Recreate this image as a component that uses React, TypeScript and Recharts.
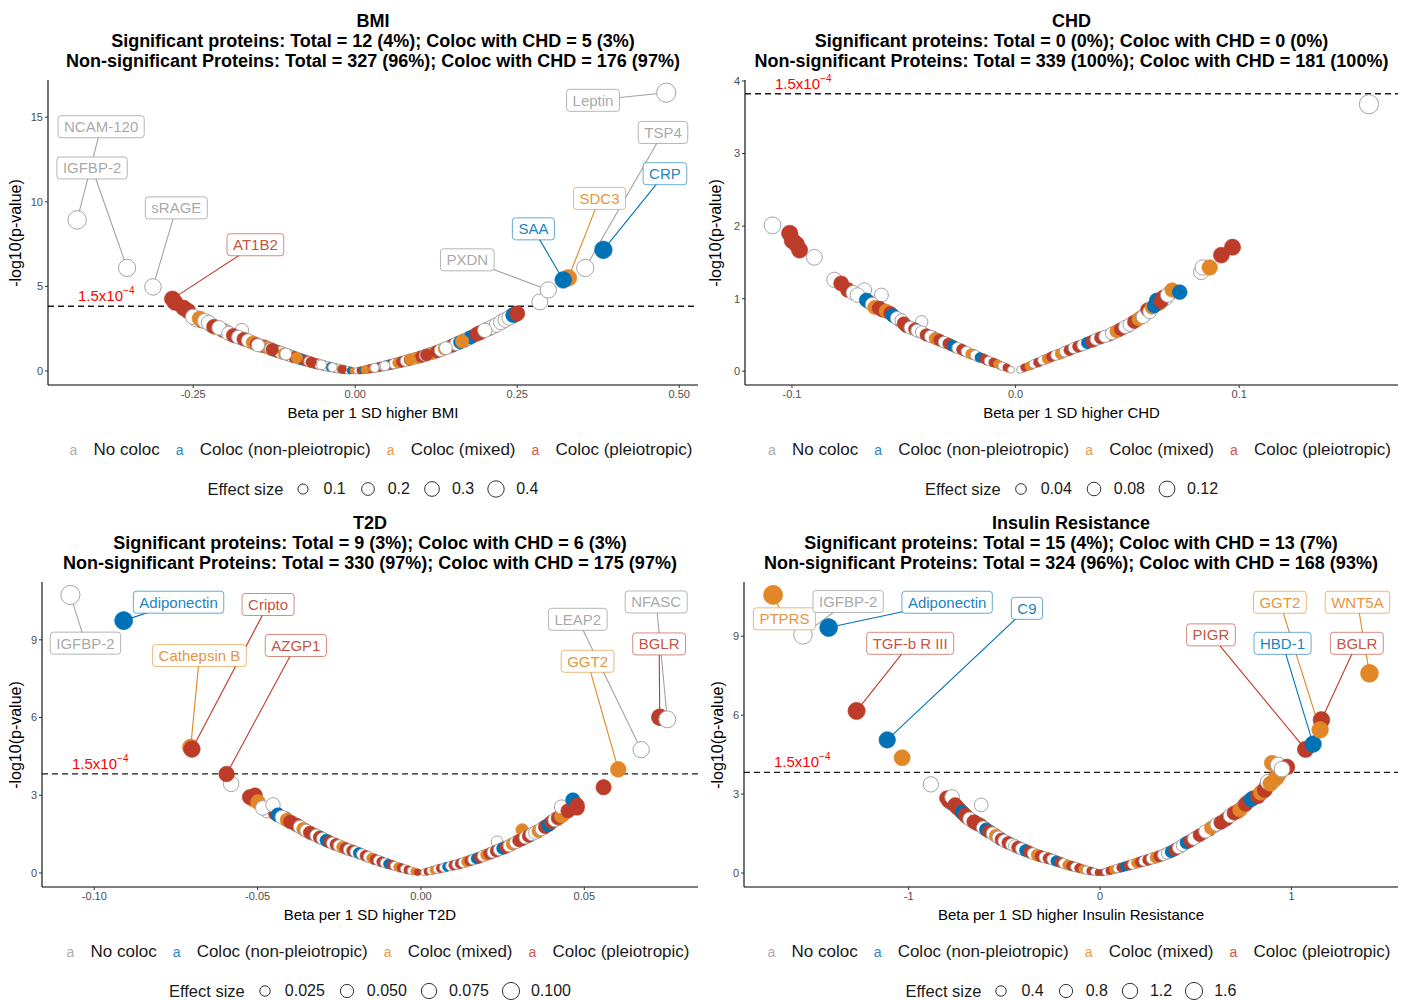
import React from 'react';
import { ScatterChart, Scatter, XAxis, YAxis, ReferenceLine, ReferenceDot } from 'recharts';

const FONT = '"Liberation Sans", Arial, Helvetica, sans-serif';

// ---------- data: [beta, -log10(p), group] ; group 0 no coloc, 1 non-pleio, 2 mixed, 3 pleio ----------
const GROUP_NAMES = ['No coloc', 'Coloc (non-pleiotropic)', 'Coloc (mixed)', 'Coloc (pleiotropic)'];
const THRESHOLD_P = 1.5e-4;

const bmiBand: number[][] = [
  [-0.245, 3.05, 0], [-0.236, 2.98, 3], [-0.222, 2.7, 0], [-0.214, 2.58, 2], [-0.204, 2.4, 3], [-0.198, 2.3, 0],
  [-0.184, 2.05, 0], [-0.176, 1.95, 2], [-0.168, 1.83, 0], [-0.161, 1.72, 3], [-0.155, 1.62, 0], [-0.143, 1.47, 2],
  [-0.133, 1.35, 0], [-0.118, 1.13, 0], [-0.112, 1.05, 3], [-0.101, 0.91, 0], [-0.096, 0.85, 1], [-0.085, 0.71, 0],
  [-0.074, 0.58, 2], [-0.063, 0.46, 0], [-0.057, 0.4, 3], [-0.046, 0.3, 2], [-0.041, 0.26, 0], [-0.030, 0.17, 1],
  [-0.025, 0.13, 0], [-0.014, 0.06, 3], [-0.009, 0.04, 0],
  [0.006, 0.02, 2], [0.020, 0.11, 0], [0.026, 0.15, 3], [0.036, 0.22, 0], [0.041, 0.27, 2], [0.052, 0.36, 0],
  [0.058, 0.41, 1], [0.063, 0.46, 0], [0.069, 0.51, 3], [0.075, 0.57, 0], [0.081, 0.63, 2], [0.087, 0.69, 0],
  [0.093, 0.75, 3], [0.099, 0.82, 0], [0.105, 0.88, 1], [0.117, 1.03, 3], [0.123, 1.1, 0], [0.129, 1.18, 3],
  [0.135, 1.27, 0], [0.147, 1.45, 2], [0.153, 1.55, 0], [0.159, 1.65, 3], [0.171, 1.85, 0], [0.184, 2.1, 2],
  [0.191, 2.24, 3], [0.207, 2.5, 2], [0.215, 2.66, 0], [0.228, 2.95, 0], [0.241, 3.22, 0], [0.247, 3.35, 1],
];

const bmiPoints: number[][] = [
  [-0.429, 8.93, 0], [-0.352, 6.09, 0], [-0.312, 4.97, 0],
  [-0.282, 4.26, 3], [-0.278, 4.05, 3], [-0.265, 3.73, 3], [-0.258, 3.55, 3], [-0.250, 3.2, 0], [-0.240, 3.1, 2],
  [-0.232, 2.95, 0], [-0.226, 2.85, 0], [-0.218, 2.62, 3], [-0.210, 2.55, 0], [-0.175, 2.4, 0], [-0.195, 2.22, 0],
  [-0.188, 2.1, 3], [-0.180, 2.0, 0], [-0.172, 1.88, 3], [-0.165, 1.8, 0], [-0.158, 1.68, 2], [-0.152, 1.58, 3],
  [-0.146, 1.5, 0], [-0.140, 1.45, 3], [-0.136, 1.4, 2], [-0.130, 1.3, 0], [-0.125, 1.22, 1], [-0.120, 1.15, 3],
  [-0.115, 1.1, 0], [-0.110, 1.02, 2], [-0.104, 0.95, 3], [-0.099, 0.88, 0], [-0.094, 0.82, 3], [-0.088, 0.74, 0],
  [-0.082, 0.68, 1], [-0.077, 0.62, 3], [-0.071, 0.55, 0], [-0.066, 0.49, 2], [-0.060, 0.43, 3], [-0.055, 0.38, 0],
  [-0.049, 0.33, 3], [-0.044, 0.28, 0], [-0.038, 0.23, 1], [-0.033, 0.19, 3], [-0.028, 0.15, 0], [-0.022, 0.11, 2],
  [-0.017, 0.08, 3], [-0.012, 0.05, 0], [-0.007, 0.03, 1], [-0.003, 0.01, 2],
  [-0.150, 1.52, 0], [-0.128, 1.27, 3], [-0.107, 1.0, 0], [-0.090, 0.78, 2], [-0.068, 0.52, 3], [-0.052, 0.36, 0],
  [-0.035, 0.21, 0], [-0.020, 0.1, 3],
  [0.003, 0.01, 0], [0.008, 0.03, 3], [0.013, 0.06, 1], [0.018, 0.09, 0], [0.023, 0.13, 3], [0.028, 0.16, 2],
  [0.033, 0.2, 0], [0.038, 0.24, 3], [0.044, 0.29, 0], [0.049, 0.33, 1], [0.055, 0.38, 3], [0.060, 0.43, 0],
  [0.066, 0.48, 2], [0.072, 0.54, 3], [0.078, 0.6, 0], [0.084, 0.66, 3], [0.090, 0.72, 0], [0.096, 0.78, 2],
  [0.102, 0.85, 3], [0.108, 0.92, 0], [0.114, 1.0, 0], [0.120, 1.06, 2], [0.126, 1.14, 3], [0.132, 1.22, 0],
  [0.138, 1.32, 2], [0.144, 1.4, 0], [0.150, 1.5, 3], [0.156, 1.6, 0], [0.162, 1.7, 1], [0.168, 1.8, 3],
  [0.174, 1.9, 0], [0.178, 1.98, 1], [0.188, 2.18, 3], [0.194, 2.28, 3], [0.203, 2.45, 2], [0.210, 2.58, 0],
  [0.218, 2.72, 0], [0.225, 2.88, 0], [0.232, 3.02, 0], [0.238, 3.15, 0], [0.244, 3.3, 1], [0.250, 3.4, 3],
  [0.046, 0.3, 0], [0.085, 0.68, 2], [0.110, 0.95, 3], [0.140, 1.35, 0], [0.165, 1.75, 2], [0.200, 2.4, 0],
  [0.015, 0.07, 2], [0.030, 0.18, 0],
  [0.285, 4.08, 0], [0.298, 4.79, 0], [0.329, 5.5, 2], [0.321, 5.38, 1], [0.355, 6.09, 0], [0.383, 7.16, 1],
  [0.480, 16.45, 0],
];

const chdBand: number[][] = [
  [-0.0655, 0.95, 2], [-0.062, 0.9, 3], [-0.0575, 0.82, 0], [-0.052, 0.71, 3], [-0.0495, 0.64, 1], [-0.046, 0.59, 2],
  [-0.043, 0.55, 3], [-0.041, 0.52, 0], [-0.039, 0.49, 3], [-0.037, 0.47, 1], [-0.035, 0.44, 0], [-0.033, 0.41, 2],
  [-0.031, 0.39, 0], [-0.029, 0.36, 3], [-0.027, 0.33, 0], [-0.025, 0.31, 2], [-0.023, 0.28, 3], [-0.021, 0.25, 0],
  [-0.019, 0.23, 3], [-0.017, 0.2, 0], [-0.015, 0.18, 2], [-0.013, 0.15, 3], [-0.011, 0.13, 0], [-0.009, 0.11, 1],
  [-0.007, 0.08, 3], [-0.005, 0.06, 0], [-0.003, 0.03, 2],
  [0.003, 0.03, 2], [0.005, 0.06, 0], [0.007, 0.08, 3], [0.009, 0.11, 1], [0.011, 0.13, 0], [0.013, 0.16, 3],
  [0.015, 0.18, 0], [0.017, 0.21, 2], [0.019, 0.23, 3], [0.021, 0.25, 0], [0.023, 0.28, 2], [0.025, 0.3, 0],
  [0.027, 0.33, 3], [0.029, 0.35, 0], [0.031, 0.37, 2], [0.033, 0.4, 0], [0.035, 0.42, 3], [0.037, 0.45, 0],
  [0.039, 0.47, 2], [0.042, 0.5, 3], [0.044, 0.53, 0], [0.046, 0.56, 3], [0.048, 0.59, 2], [0.050, 0.62, 0],
  [0.052, 0.66, 3], [0.054, 0.7, 0], [0.056, 0.74, 3], [0.058, 0.78, 0], [0.064, 0.93, 2], [0.067, 1.0, 0],
  [0.069, 1.08, 3],
];

const chdPoints: number[][] = [
  [-0.1087, 2.01, 0], [-0.101, 1.9, 3], [-0.0998, 1.8, 3], [-0.098, 1.75, 3], [-0.0966, 1.67, 3], [-0.090, 1.57, 0],
  [-0.081, 1.26, 0], [-0.078, 1.21, 3], [-0.075, 1.12, 3], [-0.0676, 1.12, 0], [-0.0725, 1.08, 0], [-0.0707, 1.05, 0],
  [-0.060, 1.05, 0], [-0.0667, 0.98, 1], [-0.064, 0.92, 0], [-0.063, 0.88, 2], [-0.061, 0.87, 3], [-0.0595, 0.84, 3],
  [-0.058, 0.83, 2], [-0.056, 0.8, 3], [-0.055, 0.77, 1], [-0.0545, 0.76, 1], [-0.053, 0.73, 0], [-0.051, 0.7, 0],
  [-0.042, 0.68, 0], [-0.050, 0.66, 3], [-0.0488, 0.62, 3], [-0.047, 0.6, 0], [-0.045, 0.58, 3], [-0.044, 0.56, 0],
  [-0.042, 0.54, 0], [-0.040, 0.5, 3], [-0.038, 0.48, 0], [-0.036, 0.45, 2], [-0.034, 0.43, 3], [-0.032, 0.4, 0],
  [-0.030, 0.38, 3], [-0.028, 0.35, 1], [-0.026, 0.32, 0], [-0.024, 0.3, 3], [-0.022, 0.27, 0], [-0.020, 0.24, 2],
  [-0.018, 0.22, 0], [-0.016, 0.19, 1], [-0.014, 0.17, 3], [-0.012, 0.14, 0], [-0.010, 0.12, 3], [-0.008, 0.1, 2],
  [-0.006, 0.07, 0], [-0.004, 0.05, 3], [-0.002, 0.02, 0],
  [0.002, 0.02, 0], [0.004, 0.05, 3], [0.006, 0.07, 2], [0.008, 0.1, 0], [0.010, 0.12, 3], [0.012, 0.15, 0],
  [0.014, 0.17, 2], [0.016, 0.2, 3], [0.018, 0.22, 0], [0.020, 0.24, 2], [0.022, 0.27, 0], [0.024, 0.29, 3],
  [0.026, 0.32, 0], [0.028, 0.34, 3], [0.030, 0.36, 0], [0.032, 0.39, 1], [0.034, 0.41, 3], [0.036, 0.44, 0],
  [0.038, 0.46, 3], [0.040, 0.48, 0], [0.043, 0.52, 0], [0.045, 0.55, 2], [0.047, 0.58, 3], [0.049, 0.61, 0],
  [0.051, 0.64, 0], [0.053, 0.68, 3], [0.055, 0.72, 2], [0.057, 0.75, 0], [0.059, 0.85, 3], [0.060, 0.82, 0],
  [0.061, 0.88, 2], [0.062, 0.9, 1], [0.063, 0.98, 1], [0.065, 0.96, 3], [0.066, 1.02, 3], [0.068, 1.05, 0],
  [0.070, 1.12, 2], [0.0734, 1.09, 1], [0.083, 1.37, 0], [0.0837, 1.43, 0], [0.0868, 1.43, 2], [0.092, 1.6, 3],
  [0.097, 1.71, 3], [0.158, 3.68, 0],
];

const t2dBand: number[][] = [
  [-0.0515, 2.85, 2], [-0.047, 2.4, 0], [-0.0445, 2.3, 3], [-0.0415, 2.1, 1], [-0.039, 1.92, 0], [-0.0375, 1.82, 2],
  [-0.0355, 1.66, 3], [-0.0335, 1.52, 0], [-0.0325, 1.48, 2], [-0.0305, 1.35, 0], [-0.0285, 1.23, 3], [-0.0265, 1.12, 0],
  [-0.0245, 1.02, 3], [-0.0225, 0.92, 0], [-0.0205, 0.84, 2], [-0.0185, 0.74, 3], [-0.0165, 0.64, 0], [-0.0145, 0.54, 1],
  [-0.0125, 0.45, 0], [-0.0105, 0.37, 3], [-0.0085, 0.29, 0], [-0.0065, 0.21, 3], [-0.0045, 0.14, 2], [-0.0025, 0.07, 0],
  [0.0015, 0.04, 2], [0.0035, 0.1, 3], [0.0055, 0.16, 0], [0.0075, 0.22, 3], [0.0095, 0.28, 2], [0.0115, 0.34, 0],
  [0.0135, 0.42, 3], [0.0155, 0.5, 0], [0.0175, 0.58, 2], [0.0195, 0.68, 0], [0.0215, 0.77, 1], [0.0235, 0.87, 0],
  [0.0255, 0.97, 3], [0.0275, 1.08, 0], [0.0295, 1.21, 2], [0.0315, 1.33, 0], [0.0335, 1.46, 1], [0.0355, 1.59, 3],
  [0.0375, 1.74, 0], [0.0395, 1.9, 2], [0.0415, 2.08, 0], [0.0435, 2.26, 3], [0.0455, 2.45, 0], [0.0470, 2.7, 2],
];

const t2dPoints: number[][] = [
  [-0.1073, 10.73, 0], [-0.0910, 9.74, 1], [-0.0705, 4.85, 2], [-0.0701, 4.78, 3], [-0.0581, 3.44, 0], [-0.0595, 3.82, 3],
  [-0.0524, 2.93, 3], [-0.0508, 3.0, 3], [-0.0499, 2.74, 2], [-0.0484, 2.51, 0], [-0.0453, 2.63, 0], [-0.0438, 2.24, 1],
  [-0.0425, 2.15, 0], [-0.041, 2.05, 2], [-0.040, 1.97, 3], [-0.038, 1.85, 3], [-0.037, 1.78, 0], [-0.036, 1.7, 2],
  [-0.035, 1.63, 0], [-0.034, 1.56, 3], [-0.032, 1.45, 0], [-0.031, 1.38, 3], [-0.030, 1.32, 0], [-0.029, 1.26, 1],
  [-0.028, 1.2, 3], [-0.027, 1.15, 0], [-0.026, 1.1, 3], [-0.025, 1.05, 0], [-0.024, 1.0, 2], [-0.023, 0.95, 3],
  [-0.022, 0.9, 0], [-0.021, 0.86, 3], [-0.020, 0.82, 0], [-0.019, 0.77, 1], [-0.018, 0.72, 0], [-0.017, 0.67, 3],
  [-0.016, 0.62, 0], [-0.015, 0.57, 2], [-0.014, 0.52, 3], [-0.013, 0.48, 0], [-0.012, 0.43, 3], [-0.011, 0.39, 0],
  [-0.010, 0.35, 1], [-0.009, 0.31, 3], [-0.008, 0.27, 0], [-0.007, 0.23, 2], [-0.006, 0.2, 3], [-0.005, 0.16, 0],
  [-0.004, 0.12, 3], [-0.003, 0.09, 0], [-0.002, 0.06, 2], [-0.001, 0.03, 3],
  [0.001, 0.03, 0], [0.002, 0.06, 3], [0.003, 0.09, 0], [0.004, 0.12, 2], [0.005, 0.15, 0], [0.006, 0.18, 3],
  [0.007, 0.21, 0], [0.008, 0.24, 1], [0.009, 0.27, 0], [0.010, 0.3, 3], [0.011, 0.33, 0], [0.012, 0.36, 3],
  [0.013, 0.4, 0], [0.014, 0.44, 2], [0.015, 0.48, 3], [0.016, 0.52, 0], [0.017, 0.56, 1], [0.018, 0.6, 3],
  [0.019, 0.66, 0], [0.020, 0.7, 2], [0.021, 0.75, 3], [0.022, 0.8, 0], [0.0233, 1.2, 0], [0.023, 0.85, 3],
  [0.024, 0.9, 0], [0.025, 0.95, 1], [0.026, 1.0, 3], [0.027, 1.05, 0], [0.028, 1.12, 2], [0.029, 1.18, 0],
  [0.030, 1.25, 3], [0.031, 1.66, 2], [0.031, 1.3, 3], [0.032, 1.37, 0], [0.033, 1.43, 3], [0.034, 1.5, 0],
  [0.035, 1.56, 0], [0.036, 1.62, 2], [0.037, 1.7, 0], [0.038, 1.78, 3], [0.039, 1.86, 1], [0.040, 1.97, 3],
  [0.041, 2.05, 0], [0.042, 2.12, 3], [0.043, 2.2, 2], [0.044, 2.32, 2], [0.043, 2.55, 0], [0.045, 2.4, 3],
  [0.0465, 2.82, 1], [0.0478, 2.51, 3], [0.0478, 2.62, 3], [0.0559, 3.31, 3], [0.0604, 4.0, 2], [0.0674, 4.76, 0],
  [0.0731, 6.01, 3], [0.0754, 5.93, 0],
];

const irBand: number[][] = [
  [-0.785, 2.7, 0], [-0.765, 2.62, 1], [-0.748, 2.5, 3], [-0.73, 2.38, 0], [-0.712, 2.25, 3], [-0.69, 2.1, 2],
  [-0.67, 2.0, 0], [-0.652, 1.92, 1], [-0.635, 1.85, 0], [-0.618, 1.78, 3], [-0.60, 1.68, 0], [-0.585, 1.6, 2],
  [-0.57, 1.55, 0], [-0.55, 1.46, 3], [-0.535, 1.38, 0], [-0.52, 1.3, 1], [-0.49, 1.18, 0], [-0.47, 1.12, 2],
  [-0.45, 1.05, 3], [-0.42, 0.95, 0], [-0.40, 0.89, 3], [-0.38, 0.83, 0], [-0.36, 0.77, 2], [-0.34, 0.71, 0],
  [-0.32, 0.66, 3], [-0.30, 0.62, 0], [-0.28, 0.58, 2], [-0.26, 0.54, 3], [-0.24, 0.49, 0], [-0.22, 0.44, 2],
  [-0.20, 0.39, 0], [-0.18, 0.34, 3], [-0.16, 0.29, 0], [-0.14, 0.25, 1], [-0.12, 0.21, 0], [-0.10, 0.17, 3],
  [-0.08, 0.13, 0], [-0.06, 0.1, 2], [-0.04, 0.06, 3], [-0.02, 0.03, 0],
  [0.02, 0.04, 0], [0.04, 0.07, 2], [0.06, 0.11, 3], [0.08, 0.15, 0], [0.10, 0.19, 1], [0.12, 0.23, 3],
  [0.14, 0.27, 0], [0.16, 0.31, 2], [0.18, 0.35, 3], [0.20, 0.4, 0], [0.22, 0.44, 1], [0.24, 0.48, 3],
  [0.26, 0.52, 0], [0.28, 0.57, 3], [0.30, 0.61, 0], [0.32, 0.66, 2], [0.34, 0.72, 0], [0.36, 0.78, 3],
  [0.38, 0.85, 0], [0.40, 0.92, 1], [0.42, 1.0, 3], [0.44, 1.1, 0], [0.46, 1.18, 2], [0.48, 1.26, 0],
  [0.50, 1.35, 3], [0.54, 1.52, 0], [0.57, 1.65, 3], [0.60, 1.8, 0], [0.645, 1.98, 0], [0.67, 2.12, 2],
  [0.72, 2.35, 3], [0.75, 2.55, 0], [0.77, 2.7, 2], [0.80, 2.85, 3], [0.85, 3.1, 0], [0.87, 3.3, 3],
  [0.905, 3.52, 0], [0.925, 3.7, 3],
];

const irPoints: number[][] = [
  [-1.708, 10.57, 2], [-1.552, 9.05, 0], [-1.418, 9.33, 1], [-1.272, 6.16, 3], [-1.112, 5.06, 1], [-1.034, 4.38, 2],
  [-0.884, 3.37, 0], [-0.80, 2.85, 3], [-0.79, 2.75, 3], [-0.773, 2.89, 0], [-0.757, 2.59, 3], [-0.74, 2.45, 3],
  [-0.72, 2.3, 1], [-0.705, 2.2, 3], [-0.695, 2.13, 3], [-0.621, 2.59, 0], [-0.68, 2.05, 0], [-0.66, 1.95, 3],
  [-0.645, 1.88, 3], [-0.627, 1.83, 3], [-0.61, 1.72, 0], [-0.595, 1.65, 1], [-0.58, 1.58, 3], [-0.56, 1.5, 0],
  [-0.545, 1.42, 2], [-0.53, 1.35, 0], [-0.515, 1.28, 3], [-0.50, 1.22, 0], [-0.48, 1.15, 3], [-0.46, 1.08, 0],
  [-0.445, 1.03, 0], [-0.43, 0.98, 3], [-0.41, 0.92, 0], [-0.39, 0.86, 1], [-0.37, 0.8, 3], [-0.35, 0.74, 0],
  [-0.33, 0.69, 2], [-0.31, 0.64, 3], [-0.29, 0.6, 0], [-0.27, 0.56, 3], [-0.25, 0.52, 0], [-0.23, 0.46, 1],
  [-0.21, 0.41, 3], [-0.19, 0.36, 0], [-0.17, 0.31, 2], [-0.15, 0.27, 3], [-0.13, 0.23, 0], [-0.11, 0.19, 3],
  [-0.09, 0.15, 2], [-0.07, 0.11, 0], [-0.05, 0.08, 3], [-0.03, 0.05, 0], [-0.01, 0.02, 3],
  [0.01, 0.02, 3], [0.03, 0.05, 0], [0.05, 0.09, 3], [0.07, 0.13, 2], [0.09, 0.17, 0], [0.11, 0.21, 3],
  [0.13, 0.25, 1], [0.15, 0.29, 3], [0.17, 0.33, 0], [0.19, 0.38, 2], [0.21, 0.42, 3], [0.23, 0.46, 0],
  [0.25, 0.5, 3], [0.27, 0.55, 0], [0.29, 0.59, 2], [0.31, 0.64, 3], [0.33, 0.69, 0], [0.35, 0.75, 0],
  [0.37, 0.81, 1], [0.39, 0.88, 3], [0.41, 0.96, 0], [0.43, 1.05, 0], [0.45, 1.15, 1], [0.47, 1.22, 3],
  [0.49, 1.3, 0], [0.52, 1.44, 3], [0.55, 1.58, 0], [0.58, 1.72, 2], [0.61, 1.85, 0], [0.63, 1.92, 3],
  [0.66, 2.05, 3], [0.68, 2.18, 0], [0.70, 2.28, 3], [0.73, 2.4, 2], [0.76, 2.62, 3], [0.79, 2.8, 1],
  [0.825, 2.92, 3], [0.84, 3.05, 2], [0.86, 3.16, 3], [0.877, 3.46, 0], [0.89, 3.4, 2], [0.92, 3.61, 2],
  [0.94, 3.84, 2], [0.898, 4.18, 2], [0.93, 4.11, 0], [0.976, 4.03, 3], [0.95, 3.95, 0], [1.073, 4.7, 3],
  [1.113, 4.9, 1], [1.156, 5.82, 3], [1.149, 5.44, 2], [1.407, 7.59, 2],
];

// ---------- annotations: [text, group, labelBeta, labelLogP, pointBeta, pointLogP] ----------
const bmiLabels: any[][] = [
  ['Leptin', 0, 0.367, 16.0, 0.48, 16.45], ['NCAM-120', 0, -0.392, 14.44, -0.429, 8.93],
  ['IGFBP-2', 0, -0.406, 12.0, -0.352, 6.09], ['sRAGE', 0, -0.276, 9.64, -0.312, 4.97],
  ['AT1B2', 3, -0.154, 7.46, -0.282, 4.26], ['PXDN', 0, 0.173, 6.57, 0.298, 4.79],
  ['SAA', 1, 0.275, 8.4, 0.321, 5.38], ['SDC3', 2, 0.377, 10.2, 0.329, 5.5],
  ['TSP4', 0, 0.475, 14.1, 0.355, 6.09], ['CRP', 1, 0.478, 11.66, 0.383, 7.16],
];
const chdLabels: any[][] = [];
const t2dLabels: any[][] = [
  ['IGFBP-2', 0, -0.1027, 8.87, -0.1073, 10.73], ['Adiponectin', 1, -0.0742, 10.45, -0.091, 9.74],
  ['Cripto', 3, -0.0468, 10.36, -0.0701, 4.78], ['Cathepsin B', 2, -0.0678, 8.39, -0.0705, 4.85],
  ['AZGP1', 3, -0.0383, 8.78, -0.0595, 3.82], ['LEAP2', 0, 0.048, 9.79, 0.0674, 4.76],
  ['NFASC', 0, 0.072, 10.46, 0.0754, 5.93], ['BGLR', 3, 0.0729, 8.84, 0.0731, 6.01],
  ['GGT2', 2, 0.051, 8.17, 0.0604, 4.0],
];
const irLabels: any[][] = [
  ['PTPRS', 2, -1.649, 9.66, -1.708, 10.57], ['IGFBP-2', 0, -1.316, 10.32, -1.552, 9.05],
  ['Adiponectin', 1, -0.799, 10.29, -1.418, 9.33], ['C9', 1, -0.382, 10.06, -1.112, 5.06],
  ['TGF-b R III', 3, -0.992, 8.73, -1.272, 6.16], ['PIGR', 3, 0.579, 9.05, 1.073, 4.7],
  ['GGT2', 2, 0.939, 10.29, 1.149, 5.44], ['HBD-1', 1, 0.953, 8.73, 1.113, 4.9],
  ['WNT5A', 2, 1.344, 10.29, 1.407, 7.59], ['BGLR', 3, 1.341, 8.73, 1.156, 5.82],
];

// ---------- tick values & legend keys ----------
const bmiXTicks = [-0.25, 0, 0.25, 0.5];
const bmiYTicks = [0, 5, 10, 15];
const chdXTicks = [-0.1, 0, 0.1];
const chdYTicks = [0, 1, 2, 3, 4];
const t2dXTicks = [-0.1, -0.05, 0, 0.05];
const t2dYTicks = [0, 3, 6, 9];
const irXTicks = [-1, 0, 1];
const irYTicks = [0, 3, 6, 9];
const bmiSizeKeys = [0.1, 0.2, 0.3, 0.4];
const chdSizeKeys = [0.04, 0.08, 0.12];
const t2dSizeKeys = [0.025, 0.05, 0.075, 0.1];
const irSizeKeys = [0.4, 0.8, 1.2, 1.6];

// ---------- styles ----------
const POINT_COLORS = ['#FFFFFF', '#0072B5', '#E18727', '#BC3C29'];
const LINE_COLORS = ['#A3A3A3', '#0072B5', '#E18727', '#BC3C29'];
const LEGEND_COLORS = ['#ADADAD', '#2E86C8', '#EC9A48', '#D0584A'];

let measureCtx: CanvasRenderingContext2D | null = null;
function textWidth(s: string, font: string): number {
  if (!measureCtx) measureCtx = document.createElement('canvas').getContext('2d');
  if (!measureCtx) return s.length * 8;
  measureCtx.font = font;
  return measureCtx.measureText(s).width;
}

interface PanelCfg {
  title: string[];
  xTitle: string;
  points: number[][];
  labels: any[][];
  plot: { L: number; T: number; R: number; B: number };
  xDomain: [number, number];
  yDomain: [number, number];
  xTicks: number[];
  yTicks: number[];
  xFmt: (v: number) => string;
  bmax: number;
  sizeKeys: number[];
  sizeFmt: (v: number) => string;
  yTitleX: number;
}

const panels: PanelCfg[] = [
  {
    title: ['BMI', 'Significant proteins: Total = 12 (4%); Coloc with CHD = 5 (3%)', 'Non-significant Proteins: Total = 327 (96%); Coloc with CHD = 176 (97%)'],
    xTitle: 'Beta per 1 SD higher BMI', points: [...bmiBand, ...bmiPoints], labels: bmiLabels,
    plot: { L: 48, T: 80, R: 698, B: 385 }, xDomain: [-0.474, 0.529], yDomain: [-0.83, 17.2],
    xTicks: bmiXTicks, yTicks: bmiYTicks, xFmt: (v) => v.toFixed(2), bmax: 0.48,
    sizeKeys: bmiSizeKeys, sizeFmt: (v) => v.toFixed(1), yTitleX: 16,
  },
  {
    title: ['CHD', 'Significant proteins: Total = 0 (0%); Coloc with CHD = 0 (0%)', 'Non-significant Proteins: Total = 339 (100%); Coloc with CHD = 181 (100%)'],
    xTitle: 'Beta per 1 SD higher CHD', points: [...chdBand, ...chdPoints], labels: chdLabels,
    plot: { L: 745, T: 80, R: 1398, B: 385 }, xDomain: [-0.121, 0.171], yDomain: [-0.19, 4.014],
    xTicks: chdXTicks, yTicks: chdYTicks, xFmt: (v) => v.toFixed(1), bmax: 0.158,
    sizeKeys: chdSizeKeys, sizeFmt: (v) => v.toFixed(2), yTitleX: 716,
  },
  {
    title: ['T2D', 'Significant proteins: Total = 9 (3%); Coloc with CHD = 6 (3%)', 'Non-significant Proteins: Total = 330 (97%); Coloc with CHD = 175 (97%)'],
    xTitle: 'Beta per 1 SD higher T2D', points: [...t2dBand, ...t2dPoints], labels: t2dLabels,
    plot: { L: 42, T: 582, R: 698, B: 887 }, xDomain: [-0.116, 0.0848], yDomain: [-0.54, 11.23],
    xTicks: t2dXTicks, yTicks: t2dYTicks, xFmt: (v) => v.toFixed(2), bmax: 0.1073,
    sizeKeys: t2dSizeKeys, sizeFmt: (v) => v.toFixed(3), yTitleX: 16,
  },
  {
    title: ['Insulin Resistance', 'Significant proteins: Total = 15 (4%); Coloc with CHD = 13 (7%)', 'Non-significant Proteins: Total = 324 (96%); Coloc with CHD = 168 (93%)'],
    xTitle: 'Beta per 1 SD higher Insulin Resistance', points: [...irBand, ...irPoints], labels: irLabels,
    plot: { L: 744, T: 582, R: 1398, B: 887 }, xDomain: [-1.86, 1.556], yDomain: [-0.53, 11.06],
    xTicks: irXTicks, yTicks: irYTicks, xFmt: (v) => String(v), bmax: 1.708,
    sizeKeys: irSizeKeys, sizeFmt: (v) => v.toFixed(1), yTitleX: 718,
  },
];

const radius = (b: number, bmax: number) => 2.7 + 6.9 * Math.sqrt(Math.min(Math.abs(b) / bmax, 1));

function Panel({ cfg }: { cfg: PanelCfg }) {
  const { L, T, R, B } = cfg.plot;
  const YW = 50, TOPM = 10, XH = 45, RM = 6;
  const w = R - L + YW + RM;
  const h = B - T + TOPM + XH;
  const cx = (L + R) / 2;
  const data = cfg.points.map(([b, p, g]) => ({ b, p, g }));
  const threshold = -Math.log10(THRESHOLD_P);

  const pointShape = (props: any) => {
    const { cx: x, cy: y, payload } = props;
    if (x == null || y == null) return <g />;
    const r = radius(payload.b, cfg.bmax);
    const g = payload.g;
    if (g === 0) return <circle cx={x} cy={y} r={r} fill="#FFFFFF" stroke="#A3A3A3" strokeWidth={1} />;
    return <circle cx={x} cy={y} r={r} fill={POINT_COLORS[g]} stroke={POINT_COLORS[g]} strokeWidth={0.6} />;
  };

  const labelFont = `15px ${FONT}`;
  const makeLabelShape = (text: string, g: number) => (props: any) => {
    const { cx: x, cy: y } = props;
    const tw = textWidth(text, labelFont);
    const bw = tw + 12;
    const col = LINE_COLORS[g];
    return (
      <g>
        <rect x={x - bw / 2} y={y - 11} width={bw} height={22} rx={3} ry={3} fill="#FFFFFF"
          stroke={col} strokeOpacity={g === 0 ? 0.8 : 0.6} strokeWidth={1} />
        <text x={x} y={y + 5.5} textAnchor="middle" fontSize={15} fontFamily={FONT} fill={col}
          fillOpacity={g === 0 ? 0.95 : 0.9}>{text}</text>
      </g>
    );
  };

  const thresholdLabel = (props: any) => {
    const vb = props.viewBox || {};
    const x = (vb.x ?? 0) + 30;
    const y = (vb.y ?? 0) - 5;
    return (
      <text x={x} y={y} fill="#FF0000" fontSize={15} fontFamily={FONT}>
        1.5x10<tspan dy={-7} fontSize={10}>−4</tspan>
      </text>
    );
  };

  return (
    <>
      <div style={{ position: 'absolute', left: cx - 420, width: 840, top: T === 80 ? 11 : 513, textAlign: 'center',
        fontWeight: 'bold', fontSize: 18, lineHeight: '20px', fontFamily: FONT, color: '#000', whiteSpace: 'nowrap' }}>
        {cfg.title.map((t, i) => <div key={i}>{t}</div>)}
      </div>

      <div style={{ position: 'absolute', left: L - YW, top: T - TOPM }}>
        <ScatterChart width={w} height={h} margin={{ top: TOPM, right: RM, bottom: 0, left: 0 }}>
          <XAxis type="number" dataKey="b" domain={cfg.xDomain} ticks={cfg.xTicks} allowDataOverflow
            tickFormatter={cfg.xFmt} height={XH} tickSize={3} interval={0}
            axisLine={{ stroke: '#000', strokeWidth: 1.1 }} tickLine={{ stroke: '#333' }}
            tick={{ fontSize: 11, fill: '#4D4D4D', fontFamily: FONT }} />
          <YAxis type="number" dataKey="p" domain={cfg.yDomain} ticks={cfg.yTicks} allowDataOverflow
            width={YW} tickSize={3} interval={0}
            axisLine={{ stroke: '#000', strokeWidth: 1.1 }} tickLine={{ stroke: '#333' }}
            tick={{ fontSize: 11, fill: '#4D4D4D', fontFamily: FONT }} />
          <Scatter data={data} shape={pointShape} isAnimationActive={false} />
          <ReferenceLine y={threshold} stroke="#1A1A1A" strokeWidth={1.4} strokeDasharray="6 4"
            label={thresholdLabel} />
          {cfg.labels.map((lb, i) => (
            <ReferenceLine key={'s' + i} segment={[{ x: lb[2], y: lb[3] }, { x: lb[4], y: lb[5] }]}
              stroke={LINE_COLORS[lb[1]]} strokeWidth={1.1} ifOverflow="visible" />
          ))}
          {cfg.labels.map((lb, i) => (
            <ReferenceDot key={'l' + i} x={lb[2]} y={lb[3]} r={1} ifOverflow="visible"
              shape={makeLabelShape(lb[0], lb[1])} />
          ))}
        </ScatterChart>
      </div>

      <div style={{ position: 'absolute', left: cx - 150, top: B + 18, width: 300, textAlign: 'center',
        fontSize: 15, lineHeight: '20px', fontFamily: FONT, color: '#000', whiteSpace: 'nowrap' }}>
        {cfg.xTitle}
      </div>
      <div style={{ position: 'absolute', left: cfg.yTitleX - 100, top: (T + B) / 2 - 10, width: 200, height: 20,
        textAlign: 'center', fontSize: 16, lineHeight: '20px', fontFamily: FONT, color: '#000',
        transform: 'rotate(-90deg)', whiteSpace: 'nowrap' }}>
        -log10(p-value)
      </div>

      <div style={{ position: 'absolute', left: cx + 8 - 420, width: 840, top: B + 65 - 12, height: 24,
        display: 'flex', justifyContent: 'center', alignItems: 'center', fontFamily: FONT, fontSize: 17,
        color: '#1A1A1A', whiteSpace: 'nowrap' }}>
        {GROUP_NAMES.map((n, i) => (
          <span key={i} style={{ display: 'flex', alignItems: 'center', marginRight: i < 3 ? 16 : 0 }}>
            <span style={{ color: LEGEND_COLORS[i], fontSize: 14, width: 8, marginRight: 16, textAlign: 'center' }}>a</span>
            <span>{n}</span>
          </span>
        ))}
      </div>

      <div style={{ position: 'absolute', left: cx - 420, width: 840, top: B + 104 - 12, height: 24,
        display: 'flex', justifyContent: 'center', alignItems: 'center', fontFamily: FONT, fontSize: 16,
        color: '#1A1A1A', whiteSpace: 'nowrap' }}>
        <span style={{ fontSize: 16.5, marginRight: 10 }}>Effect size</span>
        {cfg.sizeKeys.map((k, i) => {
          const r = Math.min(radius(k, cfg.bmax) - 0.8, 9);
          return (
            <span key={i} style={{ display: 'flex', alignItems: 'center', marginRight: i < cfg.sizeKeys.length - 1 ? 12 : 0 }}>
              <svg width={20} height={20} style={{ marginRight: 10 }}>
                <circle cx={10} cy={10} r={r} fill="none" stroke="#333" strokeWidth={1} />
              </svg>
              <span>{cfg.sizeFmt(k)}</span>
            </span>
          );
        })}
      </div>
    </>
  );
}

export default function App() {
  return (
    <div style={{ position: 'absolute', left: 0, top: 0, width: 1407, height: 1001, background: '#FFFFFF', overflow: 'hidden' }}>
      {panels.map((p, i) => <Panel key={i} cfg={p} />)}
    </div>
  );
}
